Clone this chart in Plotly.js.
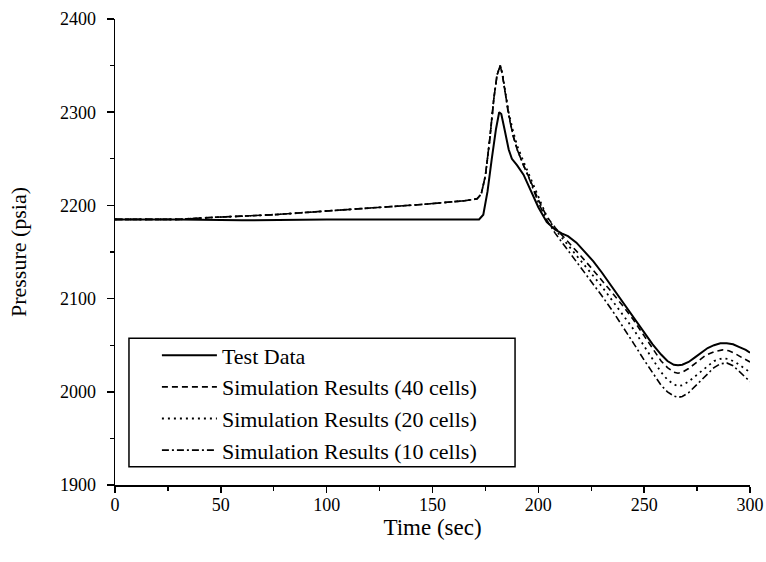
<!DOCTYPE html>
<html>
<head>
<meta charset="utf-8">
<script src="https://cdn.plot.ly/plotly-3.0.1.min.js"></script>
<style>
html,body{margin:0;padding:0;background:#fff;}
#chart{width:766px;height:562px;}
</style>
</head>
<body>
<div id="chart"></div>
<script>
// Test data
const testTime = [0, 30, 60, 100, 140, 172, 174, 176, 178, 180, 181.5, 182.5, 184, 186, 187.5, 190, 193, 196, 200, 204, 208, 211, 214, 218, 222, 226, 230, 234, 238, 242, 246, 250, 254, 258, 261, 264, 266, 268, 271, 274, 277, 280, 283, 286, 289, 292, 295, 298, 300];
const testPressure = [2185, 2185, 2184, 2185, 2185, 2185, 2190, 2215, 2250, 2282, 2300, 2298, 2282, 2260, 2250, 2243, 2233, 2218, 2198, 2182, 2174, 2170, 2167, 2160, 2150, 2140, 2128, 2115, 2102, 2090, 2076, 2063, 2051, 2040, 2033, 2029, 2028.5, 2029, 2032, 2037, 2042, 2047, 2050, 2052, 2052, 2051, 2048, 2045, 2042];

// Simulation results (40 cells)
const sim40Time = [0, 30, 45, 75, 100, 120, 145, 165, 171, 173, 175, 177, 179, 180.5, 182, 183, 184.5, 186, 188, 190, 193, 196, 200, 204, 208, 212, 216, 220, 225, 230, 235, 240, 245, 250, 254, 258, 261, 264, 266, 268, 271, 275, 279, 283, 287, 290, 293, 296, 300];
const sim40Pressure = [2185, 2185, 2187, 2190, 2194, 2197, 2201, 2205, 2207, 2212, 2232, 2270, 2315, 2340, 2350, 2340, 2318, 2298, 2275, 2260, 2243, 2228, 2206, 2188, 2176, 2166, 2157, 2146, 2133, 2120, 2106, 2092, 2077, 2060, 2046, 2033, 2026, 2021, 2020, 2021, 2025, 2032, 2039, 2043, 2045, 2044, 2041, 2037, 2032];

// Simulation results (20 cells)
const sim20Time = [0, 30, 45, 75, 100, 120, 145, 165, 171, 173, 175, 177, 179, 180.5, 182, 183, 184.5, 186, 188, 190, 193, 196, 200, 204, 208, 212, 216, 220, 225, 230, 235, 240, 245, 250, 254, 258, 261, 264, 266, 268, 271, 275, 279, 283, 287, 290, 293, 296, 300];
const sim20Pressure = [2185, 2185, 2187, 2190, 2194, 2197, 2201, 2205, 2207, 2212, 2232, 2270, 2315, 2340, 2350, 2342, 2322, 2300, 2280, 2264, 2247, 2231, 2208, 2188, 2174, 2163, 2153, 2141, 2127, 2113, 2098, 2083, 2067, 2049, 2035, 2021, 2013, 2008, 2006, 2007, 2011, 2018, 2026, 2033, 2036, 2035, 2032, 2027, 2021];

// Simulation results (10 cells)
const sim10Time = [0, 30, 45, 75, 100, 120, 145, 165, 171, 173, 175, 177, 179, 180.5, 182, 183, 184.5, 186, 188, 190, 193, 196, 200, 204, 208, 212, 216, 220, 225, 230, 235, 240, 245, 250, 254, 258, 261, 264, 266, 268, 271, 275, 279, 283, 286, 289, 292, 295, 298, 300];
const sim10Pressure = [2185, 2185, 2187, 2190, 2194, 2197, 2201, 2205, 2207, 2212, 2232, 2270, 2315, 2340, 2350, 2341, 2320, 2296, 2276, 2260, 2243, 2227, 2203, 2184, 2170, 2158, 2146, 2133, 2118, 2103, 2087, 2070, 2052, 2034, 2020, 2007, 2000, 1995.5, 1994, 1995, 1999, 2008, 2018, 2026, 2030, 2031, 2028, 2022, 2015, 2011];

const seriesNames = ["Test Data", "Simulation Results (40 cells)", "Simulation Results (20 cells)", "Simulation Results (10 cells)"];
const xTickVals = [0, 50, 100, 150, 200, 250, 300];
const yTickVals = [1900, 2000, 2100, 2200, 2300, 2400];

const FONT = "Liberation Serif, Times New Roman, serif";
const dashes = ["solid", "6px,4px", "2px,4px", "7px,3px,2px,3px"];
const widths = [2, 1.6, 1.8, 1.6];
const xs = [testTime, sim40Time, sim20Time, sim10Time];
const ys = [testPressure, sim40Pressure, sim20Pressure, sim10Pressure];

const traces = seriesNames.map((n, i) => ({
  x: xs[i], y: ys[i], name: n, type: "scatter", mode: "lines",
  line: {color: "#000", width: widths[i], dash: dashes[i], shape: "linear"}
}));

const layout = {
  width: 766, height: 562,
  paper_bgcolor: "#fff", plot_bgcolor: "#fff",
  margin: {l: 115, r: 16, t: 19, b: 77},
  font: {family: FONT, color: "#000", size: 18},
  showlegend: true,
  legend: {
    x: 0.066, y: 0.176, xanchor: "left", yanchor: "middle",
    bgcolor: "rgba(0,0,0,0)", borderwidth: 0,
    font: {family: FONT, size: 22, color: "#000"},
    tracegroupgap: 0, itemwidth: 55
  },
  shapes: [{
    type: "rect", xref: "paper", yref: "paper",
    x0: 0.022, x1: 0.63, y0: 0.039, y1: 0.315,
    line: {color: "#000", width: 1.5}, fillcolor: "rgba(0,0,0,0)", layer: "below"
  }],
  xaxis: {
    range: [0, 300], tickvals: xTickVals, ticktext: xTickVals.map(String),
    showgrid: false, zeroline: false, showline: true, linecolor: "#000", linewidth: 1.5,
    ticks: "outside", ticklen: 6, tickwidth: 1.5, tickcolor: "#000",
    minor: {dtick: 25, tick0: 0, ticks: "outside", ticklen: 4, tickwidth: 1.2, tickcolor: "#000", showgrid: false},
    tickfont: {family: FONT, size: 18},
    ticklabelstandoff: -3,
    title: {text: "Time (sec)", font: {family: FONT, size: 23}, standoff: 0}
  },
  yaxis: {
    range: [1900, 2400], tickvals: yTickVals, ticktext: yTickVals.map(String),
    showgrid: false, zeroline: false, showline: true, linecolor: "#000", linewidth: 1.5,
    ticks: "outside", ticklen: 7, tickwidth: 1.5, tickcolor: "#000",
    minor: {dtick: 50, tick0: 1900, ticks: "outside", ticklen: 4, tickwidth: 1.2, tickcolor: "#000", showgrid: false},
    tickfont: {family: FONT, size: 18},
    ticklabelstandoff: 7,
    title: {text: "Pressure (psia)", font: {family: FONT, size: 22}, standoff: 27}
  }
};

Plotly.newPlot("chart", traces, layout, {displayModeBar: false, staticPlot: true});
</script>
</body>
</html>
